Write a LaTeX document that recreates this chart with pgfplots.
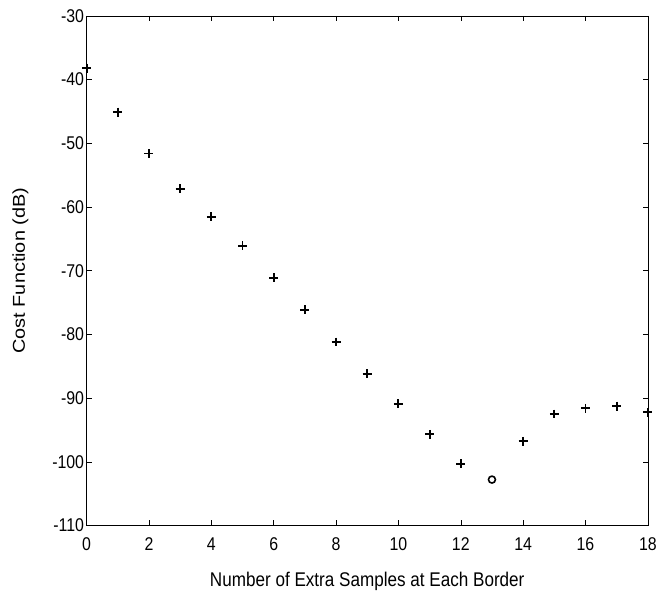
\documentclass[border=0pt]{standalone}
\usepackage{pgfplots}
\pgfplotsset{compat=1.18}
\usepackage{fontspec}
\setmainfont{Liberation Sans}
\newfontfamily\hfont[FakeStretch=0.862]{Liberation Sans}
\newfontfamily\vfont[FakeStretch=1.16]{Liberation Sans}
\begin{document}
\begin{tikzpicture}
\begin{axis}[
  scale only axis,
  width=564bp, height=512bp,
  xmin=0, xmax=18, ymin=-110, ymax=-30,
  xtick={0,2,...,18},
  ytick={-110,-100,...,-30},
  tick align=inside,
  major tick length=5bp,
  tick style={black, line width=0.5pt},
  axis line style={black, line width=0.6pt},
  /pgf/number format/assume math mode=true,
  ticklabel style={font=\hfont\fontsize{18.6}{20}\selectfont},
  xticklabel style={yshift=-9bp},
  yticklabel style={xshift=1bp},
  xlabel={Number of Extra Samples at Each Border},
  ylabel={Cost Function (dB)},
  xlabel style={font=\hfont\fontsize{20}{22}\selectfont, yshift=-14bp},
  ylabel style={font=\vfont\fontsize{17.3}{20}\selectfont, yshift=17bp},
  clip=false,
]
\addplot[only marks, mark=+, mark size=4.5bp, line width=2pt, black] coordinates {
(0,-38.2) (1,-45.1) (2,-51.6) (3,-57.1) (4,-61.5) (5,-66.1) (6,-71.1)
(7,-76.1) (8,-81.2) (9,-86.2) (10,-90.9) (11,-95.7) (12,-100.3)
(14,-96.8) (15,-92.5) (16,-91.6) (17,-91.25) (18,-92.2)
};
\addplot[only marks, mark=o, mark size=3.5bp, line width=1.6pt, black] coordinates {
(13,-102.8)
};
\end{axis}
\path ([shift={(-87bp,-65bp)}]current axis.south west) rectangle ([shift={(9bp,16bp)}]current axis.north east);
\end{tikzpicture}
\end{document}
